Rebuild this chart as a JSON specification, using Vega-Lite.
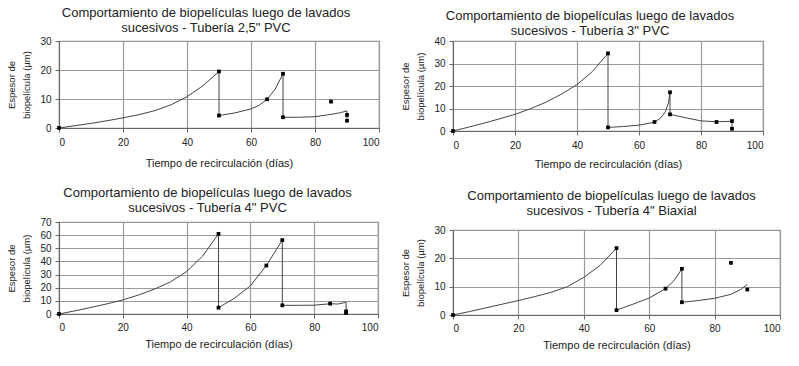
{
  "$schema": "https://vega.github.io/schema/vega-lite/v6.json",
  "padding": {"left": 6, "top": 6, "right": 0, "bottom": 0},
  "background": "white",
  "config": {
    "font": "Liberation Sans",
    "view": {"stroke": "#8c8c8c", "strokeWidth": 1.2},
    "axis": {"gridColor": "#9a9a9a", "gridWidth": 1.2, "gridOpacity": 1, "domainColor": "#666666", "tickColor": "#666666", "tickSize": 4, "labelFontSize": 10, "labelColor": "#222222", "titleColor": "#222222", "titleFontWeight": "normal", "labelPadding": 4},
    "title": {"fontSize": 13, "fontWeight": "normal", "color": "#222222", "lineHeight": 15},
    "line": {"color": "#444444", "strokeWidth": 1},
    "point": {"shape": "square", "filled": true, "color": "#000000", "size": 14, "opacity": 1}
  },
  "datasets": {
    "aL": [
      {"i":1,"x":0,"y":0},{"i":2,"x":5,"y":0.8},{"i":3,"x":10,"y":1.6},{"i":4,"x":15,"y":2.5},{"i":5,"x":20,"y":3.5},{"i":6,"x":25,"y":4.6},{"i":7,"x":30,"y":6.0},{"i":8,"x":35,"y":8.0},{"i":9,"x":40,"y":10.8},{"i":10,"x":45,"y":14.6},{"i":11,"x":50,"y":19.5},
      {"i":12,"x":50,"y":4.3},{"i":13,"x":55,"y":5.2},{"i":14,"x":60,"y":6.6},{"i":15,"x":62.5,"y":7.8},{"i":16,"x":65,"y":9.9},{"i":17,"x":67.5,"y":13.3},{"i":18,"x":70,"y":18.7},
      {"i":19,"x":70,"y":3.7},{"i":20,"x":75,"y":3.7},{"i":21,"x":80,"y":3.9},{"i":22,"x":85,"y":4.7},{"i":23,"x":88,"y":5.3},{"i":24,"x":90,"y":5.9},{"i":25,"x":90,"y":2.5}
    ],
    "aP": [
      {"x":0,"y":0},{"x":50,"y":19.5},{"x":50,"y":4.3},{"x":65,"y":9.9},{"x":70,"y":18.7},{"x":70,"y":3.7},{"x":85,"y":9.1},{"x":90,"y":4.5},{"x":90,"y":2.5}
    ],
    "bL": [
      {"i":1,"x":0,"y":0},{"i":2,"x":5,"y":1.7},{"i":3,"x":10,"y":3.5},{"i":4,"x":15,"y":5.4},{"i":5,"x":20,"y":7.4},{"i":6,"x":25,"y":9.9},{"i":7,"x":30,"y":12.8},{"i":8,"x":35,"y":16.4},{"i":9,"x":40,"y":20.6},{"i":10,"x":45,"y":26.5},{"i":11,"x":50,"y":34.5},
      {"i":12,"x":50,"y":1.6},{"i":13,"x":55,"y":2.0},{"i":14,"x":60,"y":2.6},{"i":15,"x":65,"y":3.9},{"i":16,"x":67,"y":5.8},{"i":17,"x":68.5,"y":8.5},{"i":18,"x":69.5,"y":12.5},{"i":19,"x":70,"y":17.2},
      {"i":20,"x":70,"y":7.4},{"i":21,"x":75,"y":5.9},{"i":22,"x":80,"y":4.5},{"i":23,"x":85,"y":4.1},{"i":24,"x":90,"y":4.3},{"i":25,"x":90,"y":1.0}
    ],
    "bP": [
      {"x":0,"y":0},{"x":50,"y":34.5},{"x":50,"y":1.6},{"x":65,"y":4.0},{"x":70,"y":17.2},{"x":70,"y":7.4},{"x":85,"y":4.0},{"x":90,"y":4.4},{"x":90,"y":1.0}
    ],
    "cL": [
      {"i":1,"x":0,"y":0},{"i":2,"x":5,"y":2.4},{"i":3,"x":10,"y":5.0},{"i":4,"x":15,"y":7.7},{"i":5,"x":20,"y":10.7},{"i":6,"x":25,"y":14.5},{"i":7,"x":30,"y":19.0},{"i":8,"x":35,"y":24.5},{"i":9,"x":40,"y":32.3},{"i":10,"x":45,"y":44.0},{"i":11,"x":50,"y":61.0},
      {"i":12,"x":50,"y":4.8},{"i":13,"x":55,"y":12.0},{"i":14,"x":60,"y":21.4},{"i":15,"x":65,"y":36.9},{"i":16,"x":70,"y":56.2},
      {"i":17,"x":70,"y":6.6},{"i":18,"x":75,"y":6.6},{"i":19,"x":80,"y":6.7},{"i":20,"x":85,"y":7.8},{"i":21,"x":87.5,"y":7.6},{"i":22,"x":90,"y":8.9},{"i":23,"x":90,"y":1.0}
    ],
    "cP": [
      {"x":0,"y":0},{"x":50,"y":61.0},{"x":50,"y":4.8},{"x":65,"y":36.9},{"x":70,"y":56.2},{"x":70,"y":6.6},{"x":85,"y":7.9},{"x":90,"y":2.0},{"x":90,"y":0.8}
    ],
    "dL": [
      {"i":1,"x":0,"y":0},{"i":2,"x":5,"y":1.2},{"i":3,"x":10,"y":2.5},{"i":4,"x":15,"y":3.8},{"i":5,"x":20,"y":5.1},{"i":6,"x":25,"y":6.5},{"i":7,"x":30,"y":8.0},{"i":8,"x":35,"y":10.0},{"i":9,"x":40,"y":13.3},{"i":10,"x":45,"y":17.5},{"i":11,"x":50,"y":23.6},
      {"i":12,"x":50,"y":1.7},{"i":13,"x":55,"y":3.8},{"i":14,"x":60,"y":6.0},{"i":15,"x":65,"y":9.3},{"i":16,"x":67.5,"y":12.0},{"i":17,"x":70,"y":16.3},
      {"i":18,"x":70,"y":4.5},{"i":19,"x":75,"y":5.1},{"i":20,"x":80,"y":5.9},{"i":21,"x":85,"y":7.3},{"i":22,"x":88,"y":9.0},{"i":23,"x":90,"y":10.8}
    ],
    "dP": [
      {"x":0,"y":0},{"x":50,"y":23.6},{"x":50,"y":1.7},{"x":65,"y":9.3},{"x":70,"y":16.3},{"x":70,"y":4.5},{"x":85,"y":18.4},{"x":90,"y":9.0}
    ]
  },
  "spacing": 19,
  "hconcat": [
    {
      "spacing": 17,
      "vconcat": [
        {
          "title": {"text": ["Comportamiento de biopelículas luego de lavados", "sucesivos - Tubería 2,5\" PVC"], "offset": 1, "dx": -13},
          "width": 320, "height": 87,
          "encoding": {
            "x": {"field": "x", "type": "quantitative", "scale": {"domain": [0, 100], "nice": false}, "axis": {"values": [0, 20, 40, 60, 80, 100], "title": "Tiempo de recirculación (días)", "titleFontSize": 11, "titlePadding": 10, "labelPadding": 5}},
            "y": {"field": "y", "type": "quantitative", "scale": {"domain": [0, 30], "nice": false}, "axis": {"values": [0, 10, 20, 30], "title": ["Espesor de", "biopelícula (µm)"], "titleFontSize": 9.5, "titleLineHeight": 15, "titlePadding": 8}}
          },
          "layer": [
            {"data": {"name": "aL"}, "mark": {"type": "line"}, "encoding": {"order": {"field": "i", "type": "quantitative"}}},
            {"data": {"name": "aP"}, "mark": {"type": "point"}}
          ]
        },
        {
          "title": {"text": ["Comportamiento de biopelículas luego de lavados", "sucesivos - Tubería 4\" PVC"], "offset": 2, "dx": -11},
          "width": 319, "height": 92,
          "encoding": {
            "x": {"field": "x", "type": "quantitative", "scale": {"domain": [0, 100], "nice": false}, "axis": {"values": [0, 20, 40, 60, 80, 100], "title": "Tiempo de recirculación (días)", "titleFontSize": 11, "titlePadding": 6, "labelPadding": 4}},
            "y": {"field": "y", "type": "quantitative", "scale": {"domain": [0, 70], "nice": false}, "axis": {"values": [0, 10, 20, 30, 40, 50, 60, 70], "title": ["Espesor de", "biopelícula (µm)"], "titleFontSize": 9.5, "titleLineHeight": 15, "titlePadding": 8}}
          },
          "layer": [
            {"data": {"name": "cL"}, "mark": {"type": "line"}, "encoding": {"order": {"field": "i", "type": "quantitative"}}},
            {"data": {"name": "cP"}, "mark": {"type": "point"}}
          ]
        }
      ]
    },
    {
      "spacing": 19,
      "vconcat": [
        {
          "title": {"text": ["Comportamiento de biopelículas luego de lavados", "sucesivos - Tubería 3\" PVC"], "offset": -1.5, "dx": -18},
          "width": 310, "height": 90,
          "encoding": {
            "x": {"field": "x", "type": "quantitative", "scale": {"domain": [0, 100], "nice": false}, "axis": {"values": [0, 20, 40, 60, 80, 100], "title": "Tiempo de recirculación (días)", "titleFontSize": 11, "titlePadding": 8, "labelPadding": 5}},
            "y": {"field": "y", "type": "quantitative", "scale": {"domain": [0, 40], "nice": false}, "axis": {"values": [0, 10, 20, 30, 40], "title": ["Espesor de", "biopelícula (µm)"], "titleFontSize": 9.5, "titleLineHeight": 15, "titlePadding": 8}}
          },
          "layer": [
            {"data": {"name": "bL"}, "mark": {"type": "line"}, "encoding": {"order": {"field": "i", "type": "quantitative"}}},
            {"data": {"name": "bP"}, "mark": {"type": "point"}}
          ]
        },
        {
          "title": {"text": ["Comportamiento de biopelículas luego de lavados", "sucesivos - Tubería 4\" Biaxial"], "offset": 7, "dx": -5},
          "width": 327, "height": 85,
          "encoding": {
            "x": {"field": "x", "type": "quantitative", "scale": {"domain": [0, 100], "nice": false}, "axis": {"values": [0, 20, 40, 60, 80, 100], "title": "Tiempo de recirculación (días)", "titleFontSize": 11, "titlePadding": 6, "labelPadding": 4}},
            "y": {"field": "y", "type": "quantitative", "scale": {"domain": [0, 30], "nice": false}, "axis": {"values": [0, 10, 20, 30], "title": ["Espesor de", "biopelícula (µm)"], "titleFontSize": 9.5, "titleLineHeight": 15, "titlePadding": 8}}
          },
          "layer": [
            {"data": {"name": "dL"}, "mark": {"type": "line"}, "encoding": {"order": {"field": "i", "type": "quantitative"}}},
            {"data": {"name": "dP"}, "mark": {"type": "point"}}
          ]
        }
      ]
    }
  ]
}
